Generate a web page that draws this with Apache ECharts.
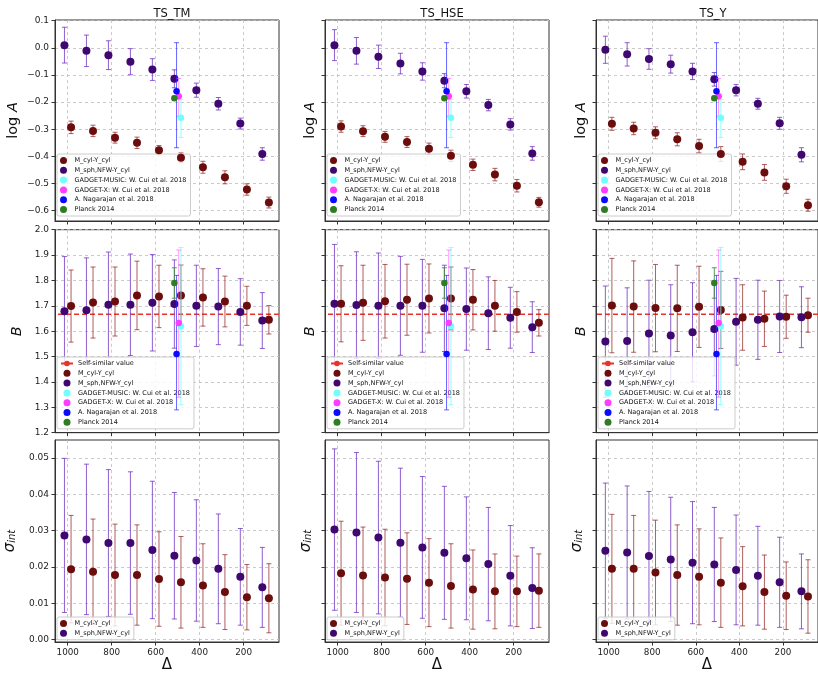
<!DOCTYPE html>
<html><head><meta charset="utf-8">
<script src="https://cdn.jsdelivr.net/npm/echarts@6/dist/echarts.min.js"></script>
<style>html,body{margin:0;padding:0;background:#fff}#c{width:818px;height:674px}</style>
</head><body><div id="c"></div>
<script>
// ---------------- DATA ----------------
const DELTA = [1000, 900, 800, 700, 600, 500, 400, 300, 200, 100];
const TITLES = ['TS_TM', 'TS_HSE', 'TS_Y'];
const N_CYL = 'M_cyl-Y_cyl';
const N_SPH = 'M_sph,NFW-Y_cyl';
const N_SELF = 'Self-similar value';
const SELF_SIMILAR_B = 5 / 3;

// log A
const TM_LOGA_CYL = [-0.293, -0.306, -0.331, -0.350, -0.377, -0.405, -0.440, -0.477, -0.522, -0.570];
const TM_LOGA_CYL_ERR = [0.023, 0.021, 0.020, 0.021, 0.017, 0.018, 0.022, 0.024, 0.021, 0.020];
const TM_LOGA_SPH = [0.010, -0.011, -0.027, -0.051, -0.080, -0.114, -0.156, -0.206, -0.279, -0.391];
const TM_LOGA_SPH_ERR = [0.066, 0.058, 0.053, 0.048, 0.040, 0.033, 0.026, 0.023, 0.020, 0.023];
const HSE_LOGA_CYL = [-0.290, -0.307, -0.328, -0.347, -0.372, -0.398, -0.431, -0.467, -0.508, -0.569];
const HSE_LOGA_CYL_ERR = [0.021, 0.020, 0.020, 0.020, 0.021, 0.021, 0.021, 0.023, 0.023, 0.018];
const HSE_LOGA_SPH = [0.010, -0.011, -0.033, -0.058, -0.087, -0.121, -0.160, -0.211, -0.282, -0.389];
const HSE_LOGA_SPH_ERR = [0.057, 0.049, 0.043, 0.038, 0.032, 0.026, 0.025, 0.021, 0.021, 0.025];
const Y_LOGA_CYL = [-0.280, -0.297, -0.313, -0.337, -0.362, -0.391, -0.420, -0.459, -0.510, -0.580];
const Y_LOGA_CYL_ERR = [0.024, 0.023, 0.022, 0.024, 0.025, 0.027, 0.029, 0.029, 0.026, 0.022];
const Y_LOGA_SPH = [-0.007, -0.024, -0.041, -0.060, -0.087, -0.116, -0.156, -0.206, -0.278, -0.394];
const Y_LOGA_SPH_ERR = [0.050, 0.043, 0.038, 0.033, 0.030, 0.025, 0.021, 0.020, 0.022, 0.026];

// B
const TM_B_CYL = [1.699, 1.713, 1.717, 1.741, 1.737, 1.741, 1.733, 1.717, 1.700, 1.645];
const TM_B_CYL_ERR = [0.142, 0.140, 0.136, 0.135, 0.123, 0.120, 0.113, 0.100, 0.077, 0.056];
const TM_B_SPH = [1.679, 1.683, 1.704, 1.704, 1.712, 1.707, 1.700, 1.697, 1.676, 1.642];
const TM_B_SPH_ERR = [0.215, 0.206, 0.208, 0.200, 0.190, 0.174, 0.160, 0.150, 0.131, 0.110];
const HSE_B_CYL = [1.708, 1.712, 1.718, 1.724, 1.729, 1.729, 1.724, 1.700, 1.676, 1.633];
const HSE_B_CYL_ERR = [0.150, 0.148, 0.145, 0.140, 0.136, 0.124, 0.119, 0.100, 0.080, 0.052];
const HSE_B_SPH = [1.708, 1.703, 1.700, 1.700, 1.700, 1.690, 1.687, 1.671, 1.653, 1.616];
const HSE_B_SPH_ERR = [0.234, 0.210, 0.208, 0.195, 0.183, 0.170, 0.162, 0.143, 0.120, 0.100];
const Y_B_CYL = [1.701, 1.697, 1.691, 1.690, 1.696, 1.684, 1.654, 1.649, 1.657, 1.663];
const Y_B_CYL_ERR = [0.186, 0.180, 0.172, 0.170, 0.160, 0.152, 0.129, 0.109, 0.085, 0.067];
const Y_B_SPH = [1.559, 1.561, 1.591, 1.583, 1.596, 1.609, 1.637, 1.645, 1.658, 1.655];
const Y_B_SPH_ERR = [0.219, 0.210, 0.210, 0.200, 0.195, 0.185, 0.171, 0.156, 0.142, 0.120];

// sigma_int
const TM_SIG_CYL = [0.0194, 0.0187, 0.0178, 0.0178, 0.0167, 0.0158, 0.0149, 0.0131, 0.0117, 0.0114];
const TM_SIG_CYL_ERR = [0.0148, 0.0145, 0.0140, 0.0138, 0.0130, 0.0126, 0.0115, 0.0103, 0.0090, 0.0095];
const TM_SIG_SPH = [0.0287, 0.0276, 0.0266, 0.0266, 0.0247, 0.0231, 0.0218, 0.0195, 0.0173, 0.0144];
const TM_SIG_SPH_ERR = [0.0212, 0.0207, 0.0202, 0.0196, 0.0189, 0.0174, 0.0167, 0.0151, 0.0133, 0.0110];
const HSE_SIG_CYL = [0.0183, 0.0177, 0.0171, 0.0168, 0.0157, 0.0148, 0.0138, 0.0133, 0.0133, 0.0135];
const HSE_SIG_CYL_ERR = [0.0143, 0.0133, 0.0133, 0.0126, 0.0121, 0.0116, 0.0109, 0.0103, 0.0097, 0.0101];
const HSE_SIG_SPH = [0.0303, 0.0295, 0.0281, 0.0267, 0.0254, 0.0239, 0.0224, 0.0208, 0.0176, 0.0142];
const HSE_SIG_SPH_ERR = [0.0222, 0.0220, 0.0210, 0.0205, 0.0195, 0.0183, 0.0169, 0.0156, 0.0138, 0.0111];
const Y_SIG_CYL = [0.0195, 0.0195, 0.0185, 0.0178, 0.0173, 0.0157, 0.0147, 0.0131, 0.0121, 0.0119];
const Y_SIG_CYL_ERR = [0.0150, 0.0147, 0.0144, 0.0138, 0.0132, 0.0123, 0.0109, 0.0102, 0.0093, 0.0101];
const Y_SIG_SPH = [0.0245, 0.0240, 0.0230, 0.0221, 0.0212, 0.0207, 0.0192, 0.0176, 0.0158, 0.0133];
const Y_SIG_SPH_ERR = [0.0186, 0.0183, 0.0178, 0.0171, 0.0168, 0.0157, 0.0151, 0.0136, 0.0124, 0.0103];

// literature values (at Delta = 500)
const LIT_NAMES = ['GADGET-MUSIC: W. Cui et al. 2018', 'GADGET-X: W. Cui et al. 2018', 'A. Nagarajan et al. 2018', 'Planck 2014'];
const LIT_DELTA = [485, 495, 505, 515];
const LIT_LOGA = [-0.258, -0.178, -0.160, -0.186];
const LIT_LOGA_LO = [-0.330, -0.252, -0.368, -0.194];
const LIT_LOGA_HI = [-0.190, -0.113, 0.019, -0.178];
const LIT_B = [1.620, 1.632, 1.510, 1.790];
const LIT_B_LO = [1.310, 1.340, 1.290, 1.730];
const LIT_B_HI = [1.930, 1.920, 1.820, 1.850];

// ticks
const X_TICKS = [200, 400, 600, 800, 1000];
const LOGA_TICKS = [-0.6, -0.5, -0.4, -0.3, -0.2, -0.1, 0.0, 0.1];
const B_TICKS = [1.2, 1.3, 1.4, 1.5, 1.6, 1.7, 1.8, 1.9, 2.0];
const SIG_TICKS = [0.00, 0.01, 0.02, 0.03, 0.04, 0.05];

// ---------------- STYLE / LAYOUT ----------------
const FONT = 'DejaVu Sans';
const COL_LEFT = [55, 325, 596], COL_W = 224;
const ROW_TOP = [20, 229.7, 440], ROW_H = [201, 203, 202.3];
const X_RANGE = [39, 1058];
const Y_RANGE = [[-0.638, 0.1026], [1.2, 2.0], [-0.00063, 0.05495]];
const Y_STEP = [0.1, 0.1, 0.01];
const Y_DEC = [1, 1, 2];
const Y_TICKS = [LOGA_TICKS, B_TICKS, SIG_TICKS];
const OFF_CYL = -15, OFF_SPH = 15;
const C_CYL = '#6c0d0d', C_CYL_BAR = 'rgba(150,40,40,0.75)';
const C_SPH = '#3e0870', C_SPH_BAR = 'rgba(115,55,195,0.8)';
const LIT_COL = ['#70ffff', '#ff3cff', '#0a0aff', '#2f7d22'];
const LIT_BAR = ['rgba(110,255,255,0.75)', 'rgba(255,80,255,0.6)', 'rgba(40,40,255,0.7)', 'rgba(60,140,50,0.85)'];

const PANEL_DATA = [
  [ // TS_TM
    [TM_LOGA_CYL, TM_LOGA_CYL_ERR, TM_LOGA_SPH, TM_LOGA_SPH_ERR],
    [TM_B_CYL, TM_B_CYL_ERR, TM_B_SPH, TM_B_SPH_ERR],
    [TM_SIG_CYL, TM_SIG_CYL_ERR, TM_SIG_SPH, TM_SIG_SPH_ERR]
  ],
  [ // TS_HSE
    [HSE_LOGA_CYL, HSE_LOGA_CYL_ERR, HSE_LOGA_SPH, HSE_LOGA_SPH_ERR],
    [HSE_B_CYL, HSE_B_CYL_ERR, HSE_B_SPH, HSE_B_SPH_ERR],
    [HSE_SIG_CYL, HSE_SIG_CYL_ERR, HSE_SIG_SPH, HSE_SIG_SPH_ERR]
  ],
  [ // TS_Y
    [Y_LOGA_CYL, Y_LOGA_CYL_ERR, Y_LOGA_SPH, Y_LOGA_SPH_ERR],
    [Y_B_CYL, Y_B_CYL_ERR, Y_B_SPH, Y_B_SPH_ERR],
    [Y_SIG_CYL, Y_SIG_CYL_ERR, Y_SIG_SPH, Y_SIG_SPH_ERR]
  ]
];

function fmt(v, d) {
  const s = Math.abs(v).toFixed(d);
  const isZero = Math.abs(v) < Math.pow(10, -d) / 2;
  return (v < 0 && !isZero ? '\u2212' : '') + s;
}

function errRender(params, api) {
  const x = api.value(0), lo = api.value(1), hi = api.value(2);
  const a = api.coord([x, lo]), b = api.coord([x, hi]);
  const cap = 2.5;
  const style = { stroke: api.visual('color'), lineWidth: 1 };
  return { type: 'group', children: [
    { type: 'line', shape: { x1: a[0], y1: a[1], x2: b[0], y2: b[1] }, style },
    { type: 'line', shape: { x1: a[0] - cap, y1: a[1], x2: a[0] + cap, y2: a[1] }, style },
    { type: 'line', shape: { x1: b[0] - cap, y1: b[1], x2: b[0] + cap, y2: b[1] }, style }
  ]};
}
function errSeries(name, gi, xs, lo, hi, color, z) {
  return { type: 'custom', name, xAxisIndex: gi, yAxisIndex: gi, z, clip: true, silent: true,
    itemStyle: { color }, encode: { x: 0, y: [1, 2] },
    data: xs.map((x, i) => [x, lo[i], hi[i]]), renderItem: errRender };
}
function ptSeries(name, gi, xs, ys, color, size, z) {
  return { type: 'scatter', name, xAxisIndex: gi, yAxisIndex: gi, z, symbol: 'circle', symbolSize: size,
    silent: true, itemStyle: { color, opacity: 1 }, data: xs.map((x, i) => [x, ys[i]]) };
}

const grids = [], xAxes = [], yAxes = [], series = [], legends = [], titles = [];
const Y_NAMES = ['{a|log }{b|A}', '{b|B}', '{s1|\u03c3}{s2|int}'];
const Y_NAME_GAP = [[34, 7, 7], [30, 7, 7], [33, 7, 7]];
const NAME_RICH = {
  a: { fontSize: 14.5, fontFamily: FONT, color: '#111' },
  b: { fontSize: 14.5, fontFamily: FONT, fontStyle: 'italic', color: '#111' },
  s1: { fontSize: 15, fontFamily: FONT, fontStyle: 'italic', color: '#111', padding: [0, 0, 4, 0] },
  s2: { fontSize: 10, fontFamily: FONT, fontStyle: 'italic', color: '#111' }
};

for (let c = 0; c < 3; c++) {
  titles.push({ text: TITLES[c], left: COL_LEFT[c] + COL_W / 2, top: 3, textAlign: 'center',
    textStyle: { fontSize: 11.5, fontWeight: 'normal', fontFamily: FONT, color: '#111' } });
  for (let r = 0; r < 3; r++) {
    const gi = grids.length;
    const showY = c === 0, showX = r === 2;
    grids.push({ left: COL_LEFT[c], top: ROW_TOP[r], width: COL_W, height: ROW_H[r], show: true,
      borderColor: '#333', borderWidth: 1, backgroundColor: 'transparent' });
    xAxes.push({ gridIndex: gi, type: 'value', inverse: true, min: X_RANGE[0], max: X_RANGE[1],
      minInterval: 200, maxInterval: 200,
      axisLine: { show: true, onZero: false, lineStyle: { color: '#333', width: 1 } },
      axisTick: { show: true, length: 3.5, customValues: X_TICKS, lineStyle: { color: '#333' } },
      axisLabel: { show: showX, customValues: X_TICKS, margin: 6, fontSize: 8.8, color: '#222', fontFamily: FONT,
        formatter: v => showX ? String(Math.round(v)) : '' },
      splitLine: { show: true, lineStyle: { color: '#bdbdbd', type: [3, 3], width: 0.8 } },
      name: showX ? '\u0394' : '', nameLocation: 'middle', nameGap: 16,
      nameTextStyle: { fontSize: 15, color: '#111', fontFamily: FONT } });
    yAxes.push({ gridIndex: gi, type: 'value', min: Y_RANGE[r][0], max: Y_RANGE[r][1],
      minInterval: Y_STEP[r], maxInterval: Y_STEP[r],
      axisLine: { show: true, onZero: false, lineStyle: { color: '#333', width: 1 } },
      axisTick: { show: true, length: 3.5, customValues: Y_TICKS[r], lineStyle: { color: '#333' } },
      axisLabel: { show: showY, customValues: Y_TICKS[r], margin: 6, fontSize: 9,
        color: showY ? '#222' : 'rgba(0,0,0,0)', fontFamily: FONT,
        formatter: v => showY ? fmt(v, Y_DEC[r]) : '' },
      splitLine: { show: true, lineStyle: { color: '#bdbdbd', type: [3, 3], width: 0.8 } },
      name: Y_NAMES[r], nameLocation: 'middle', nameGap: Y_NAME_GAP[r][c], nameRotate: 90,
      nameTextStyle: { rich: NAME_RICH } });

    const [cyl, cylErr, sph, sphErr] = PANEL_DATA[c][r];
    const xc = DELTA.map(d => d + OFF_CYL), xs = DELTA.map(d => d + OFF_SPH);
    const legendData = [];
    if (r === 1) {
      series.push({ type: 'line', name: N_SELF, xAxisIndex: gi, yAxisIndex: gi, z: 1, symbol: 'none', silent: true,
        lineStyle: { color: '#e8332a', type: [5, 3], width: 1.4 }, itemStyle: { color: '#e8332a' },
        data: [[X_RANGE[0], SELF_SIMILAR_B], [X_RANGE[1], SELF_SIMILAR_B]] });
      legendData.push({ name: N_SELF });
    }
    series.push(ptSeries(N_CYL, gi, xc, cyl, C_CYL, 8, 4));
    series.push(errSeries(N_CYL, gi, xc, cyl.map((v, i) => v - cylErr[i]), cyl.map((v, i) => v + cylErr[i]), C_CYL_BAR, 2));
    series.push(ptSeries(N_SPH, gi, xs, sph, C_SPH, 8, 4));
    series.push(errSeries(N_SPH, gi, xs, sph.map((v, i) => v - sphErr[i]), sph.map((v, i) => v + sphErr[i]), C_SPH_BAR, 2));
    legendData.push({ name: N_CYL, icon: 'circle' }, { name: N_SPH, icon: 'circle' });
    if (r < 2) {
      const val = r === 0 ? LIT_LOGA : LIT_B, lo = r === 0 ? LIT_LOGA_LO : LIT_B_LO, hi = r === 0 ? LIT_LOGA_HI : LIT_B_HI;
      for (let k = 0; k < LIT_NAMES.length; k++) {
        series.push(ptSeries(LIT_NAMES[k], gi, [LIT_DELTA[k]], [val[k]], LIT_COL[k], 6.5, 6));
        series.push(errSeries(LIT_NAMES[k], gi, [LIT_DELTA[k]], [lo[k]], [hi[k]], LIT_BAR[k], 5));
        legendData.push({ name: LIT_NAMES[k], icon: 'circle' });
      }
    }
    const legTop = [154, 357, 617][r];
    legends.push({ orient: 'vertical', left: COL_LEFT[c] + 2, top: legTop, data: legendData,
      itemWidth: 12, itemHeight: 7, itemGap: 2.8, itemTextGap: 5, padding: [3, 4, 3, 3], selectedMode: false,
      backgroundColor: 'rgba(255,255,255,0.8)', borderColor: '#cccccc', borderWidth: 1, borderRadius: 2,
      textStyle: { fontSize: 6.5, lineHeight: 7, color: '#111', fontFamily: FONT } });
  }
}

const chart = echarts.init(document.getElementById('c'), null, { renderer: 'canvas' });
chart.setOption({
  animation: false,
  backgroundColor: '#ffffff',
  textStyle: { fontFamily: FONT },
  title: titles, grid: grids, xAxis: xAxes, yAxis: yAxes, legend: legends, series
});
</script></body></html>
